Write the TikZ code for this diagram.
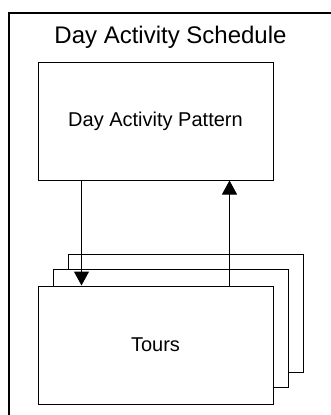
\documentclass[tikz,border=0pt]{standalone}
\usepackage{fontspec}
\setmainfont{Liberation Sans}
\usetikzlibrary{arrows.meta,positioning}

\tikzset{
	box/.style={draw, fill=white, line width=0.75pt, inner sep=0pt,
		minimum width=176.25pt, minimum height=88.5pt,
		font=\fontsize{15}{18}\selectfont},
	flow/.style={line width=0.75pt, -{Triangle[width=11.25pt,length=10.5pt]}},
	frame/.style={line width=1.5pt}
}

\begin{document}
\begin{tikzpicture}[x=0.75pt, y=-0.75pt, node distance = 78.75pt, auto]
		\useasboundingbox (0,0) rectangle (331,415);
		
		% outer schedule frame (runs off the page right and below)
		\draw[frame]
		(8.5,415) |- (331,12.5);
		\node [anchor=base, font=\fontsize{18}{21}\selectfont] (title) at (170.5,43) {Day Activity Schedule};
		
		\node [box] (dap) at (155.5,121) {Day Activity Pattern};
		
		% stack of tours, back to front
		\node [box] (tours3) at (185.5,313.5) {};
		\node [box] (tours2) at (170.5,328.5) {};
		\node [box, below=of dap] (tours) {Tours};
		
		\draw[flow]
		([xshift=33pt]dap.south west) -- ([xshift=33pt]tours.north west);
		\draw[flow]
		([xshift=-33pt]tours.north east) -- ([xshift=-33pt]dap.south east);
		
		\end{tikzpicture}
\end{document}
